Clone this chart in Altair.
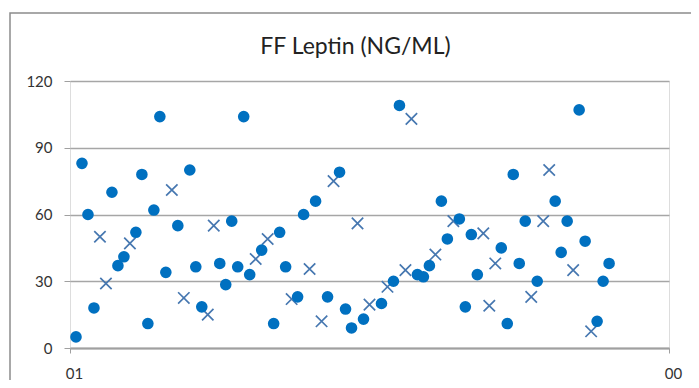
import altair as alt
import pandas as pd

# Filled-circle series (sample index, value)
circle_idx = [1, 2, 3, 4, 7, 8, 9, 11, 12, 13, 14, 15, 16, 18, 20, 21, 22, 25, 26, 27,
              28, 29, 30, 32, 34, 35, 36, 38, 39, 41, 43, 45, 46, 47, 49, 52, 54, 55, 58, 59,
              60, 62, 63, 65, 66, 67, 68, 72, 73, 74, 75, 76, 78, 81, 82, 83, 85, 86, 88, 89, 90]
circle_val = [5, 83, 60, 18, 70, 37, 41, 52, 78, 11, 62, 104, 34, 55, 80, 36.5, 18.5, 38, 28.5, 57,
              36.5, 104, 33, 44, 11, 52, 36.5, 23, 60, 66, 23, 79, 17.5, 9, 13, 20, 30, 109, 33, 32,
              37, 66, 49, 58, 18.5, 51, 33, 45, 11, 78, 38, 57, 30, 66, 43, 57, 107, 48, 12, 30, 38]

# Cross series (sample index, value)
cross_idx = [5, 6, 10, 17, 19, 23, 24, 31, 33, 37, 40, 42, 44, 48, 50, 53, 56, 57, 61, 64,
             69, 70, 71, 77, 79, 80, 84, 87]
cross_val = [50, 29, 47, 71, 22.5, 15, 55, 40, 49, 22, 35.5, 12, 75, 56, 19.5, 27.5, 35, 103, 42, 57,
             51.5, 19, 38, 23, 57, 80, 35, 7.5]

x_ticks = [0, 100]
x_tick_labels = ["01", "00"]
y_ticks = [0, 30, 60, 90, 120]
title_text = "FF Leptin (NG/ML)"

circles = pd.DataFrame({"idx": circle_idx, "val": circle_val})
crosses = pd.DataFrame({"idx": cross_idx, "val": cross_val})

label_expr = "datum.value == %d ? '%s' : '%s'" % (x_ticks[0], x_tick_labels[0], x_tick_labels[1])

x_enc = alt.X("idx:Q", scale=alt.Scale(domain=[0, 100], nice=False, zero=False),
              axis=alt.Axis(values=x_ticks, labelExpr=label_expr, title=None, grid=False,
                            domainColor="#A0A0A0", domainWidth=2, tickColor="#A0A0A0",
                            tickSize=5, labelPadding=13, labelOffset=4, labelFont="Lato",
                            labelFontSize=15, labelColor="#333333", labelFlush=False))
y_enc = alt.Y("val:Q", scale=alt.Scale(domain=[0, 120], nice=False),
              axis=alt.Axis(values=y_ticks, title=None, grid=True, gridColor="#A6A6A6",
                            gridWidth=1.5, domain=False, tickColor="#A0A0A0", tickSize=6,
                            labelPadding=12, labelFont="Lato", labelFontSize=15,
                            labelColor="#333333"))

one = pd.DataFrame({"a": [0]})

frame = alt.Chart(one).mark_rect(
    fill=None, stroke="#8C8C8C", strokeWidth=1.5
).encode(x=alt.value(-60), x2=alt.value(720), y=alt.value(-68), y2=alt.value(400))

title = alt.Chart(one).mark_text(
    text=title_text, font="Lato", fontSize=23, color="#222222",
    align="center", baseline="alphabetic"
).encode(x=alt.value(285.5), y=alt.value(-27))

pts = alt.Chart(circles).mark_point(
    shape="circle", filled=True, size=135, color="#0070C0", opacity=1
).encode(x=x_enc, y=y_enc)

xs = alt.Chart(crosses).mark_point(
    shape="M-1,-1L1,1M-1,1L1,-1", filled=False, size=130, color="#4677B0",
    strokeWidth=1.7, opacity=1
).encode(x=x_enc, y=y_enc)

chart = alt.layer(frame, title, xs, pts).properties(
    width=599, height=267,
    autosize=alt.AutoSizeParams(type="none"),
    padding={"left": 62, "top": 73, "right": 22, "bottom": 32},
).configure_view(fill="#E4E6EA", stroke="#A6A6A6", strokeWidth=1.5
).configure(background="white")

chart.save("out.html", embed_options={"renderer": "svg", "actions": False})
